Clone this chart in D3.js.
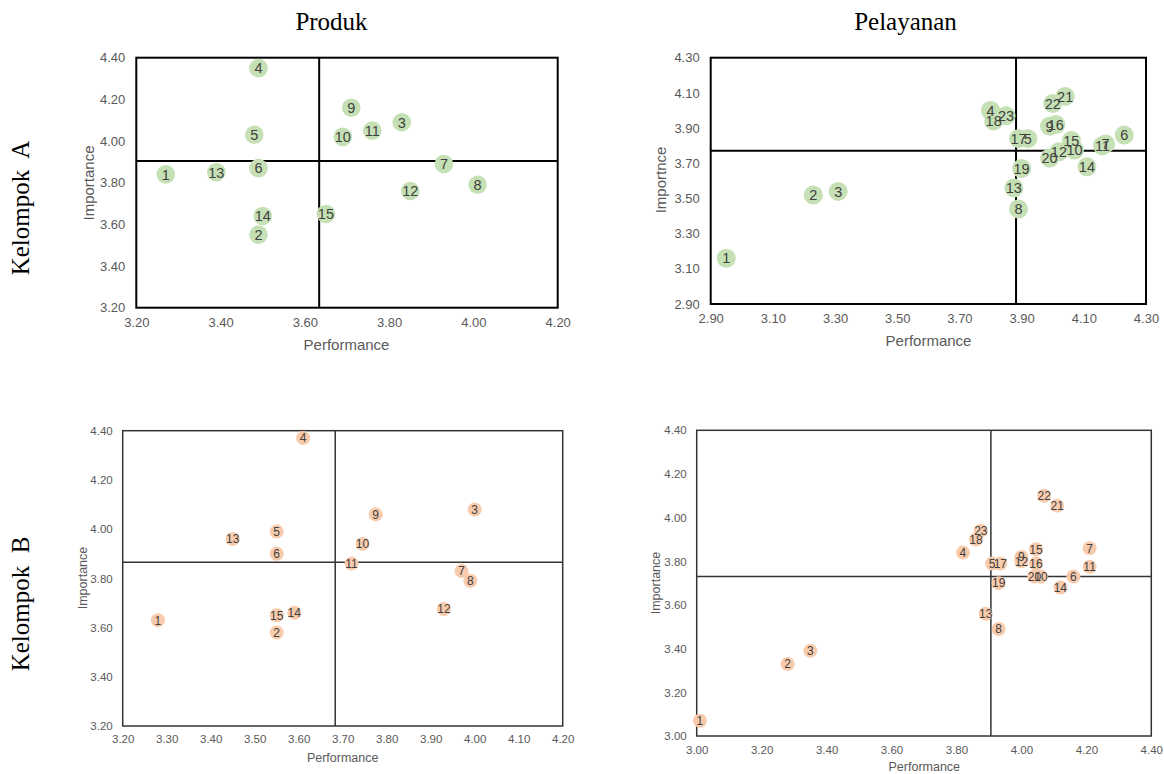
<!DOCTYPE html>
<html>
<head>
<meta charset="utf-8">
<script src="https://cdn.jsdelivr.net/npm/d3@7"></script>
<style>
  body { margin: 0; background: #fff; }
  svg text { font-family: "Liberation Sans", Arial, sans-serif; }
  .head { font-family: "Liberation Serif", "Times New Roman", serif !important; fill: #000; }
</style>
</head>
<body>
<svg id="chart" width="1164" height="774"></svg>
<script>
// ---- data ----
// Kelompok A, Produk (items 1..15)
const produkA_perf = [3.27, 3.49, 3.83, 3.49, 3.48, 3.49, 3.93, 4.01, 3.71, 3.69, 3.76, 3.85, 3.39, 3.50, 3.65];
const produkA_imp  = [3.84, 3.55, 4.09, 4.35, 4.03, 3.87, 3.89, 3.79, 4.16, 4.02, 4.05, 3.76, 3.85, 3.64, 3.65];
const produkA_mean = [3.634, 3.904];

// Kelompok A, Pelayanan (items 1..23)
const layanA_perf = [2.95, 3.23, 3.31, 3.80, 3.92, 4.23, 4.17, 3.89, 3.99, 4.07, 4.16, 4.02, 3.875, 4.11, 4.06, 4.01, 3.89, 3.81, 3.90, 3.99, 4.04, 4.00, 3.85];
const layanA_imp  = [3.16, 3.52, 3.54, 4.00, 3.84, 3.86, 3.81, 3.44, 3.91, 3.775, 3.80, 3.765, 3.56, 3.68, 3.83, 3.92, 3.84, 3.94, 3.67, 3.73, 4.08, 4.04, 3.97];
const layanA_mean = [3.882, 3.771];

// Kelompok B, Produk (items 1..15)
const produkB_perf = [3.28, 3.55, 4.00, 3.61, 3.55, 3.55, 3.97, 3.99, 3.775, 3.745, 3.72, 3.93, 3.45, 3.59, 3.55];
const produkB_imp  = [3.63, 3.58, 4.08, 4.37, 3.99, 3.90, 3.83, 3.79, 4.06, 3.94, 3.86, 3.675, 3.96, 3.66, 3.65];
const produkB_mean = [3.683, 3.865];

// Kelompok B, Pelayanan (items 1..23)
const layanB_perf = [3.01, 3.28, 3.35, 3.82, 3.91, 4.16, 4.21, 3.93, 4.00, 4.06, 4.21, 4.00, 3.89, 4.12, 4.045, 4.045, 3.935, 3.86, 3.93, 4.04, 4.11, 4.07, 3.875];
const layanB_imp  = [3.07, 3.33, 3.39, 3.84, 3.79, 3.73, 3.86, 3.49, 3.82, 3.73, 3.775, 3.80, 3.56, 3.68, 3.855, 3.79, 3.79, 3.90, 3.70, 3.73, 4.055, 4.10, 3.94];
const layanB_mean = [3.906, 3.730];

const colTitles = ["Produk", "Pelayanan"];
const rowTitles = ["Kelompok  A", "Kelompok  B"];

const green = "#c5e0b4", peach = "#f8cbad";

const svg = d3.select("#chart");

// column and row headings
svg.selectAll(".coltitle").data(colTitles).enter().append("text")
    .attr("class", "head")
    .attr("x", (d, i) => [331.5, 905.5][i])
    .attr("y", 29.5)
    .attr("text-anchor", "middle")
    .style("font-size", "25px")
    .text(d => d);

svg.selectAll(".rowtitle").data(rowTitles).enter().append("text")
    .attr("class", "head")
    .attr("transform", (d, i) => "translate(29," + [208, 604][i] + ") rotate(-90)")
    .attr("text-anchor", "middle")
    .style("font-size", "25px")
    .style("white-space", "pre")
    .attr("xml:space", "preserve")
    .text(d => d);

// one quadrant (IPA) chart
function drawIPA(cfg) {
    let g = svg.append("g");
    let x = d3.scaleLinear().domain(cfg.xDom).range([cfg.left, cfg.right]);
    let y = d3.scaleLinear().domain(cfg.yDom).range([cfg.bottom, cfg.top]);

    let xt = d3.range(0, Math.round((cfg.xDom[1] - cfg.xDom[0]) / cfg.xStep) + 1).map(i => cfg.xDom[0] + i * cfg.xStep);
    let yt = d3.range(0, Math.round((cfg.yDom[1] - cfg.yDom[0]) / cfg.yStep) + 1).map(i => cfg.yDom[0] + i * cfg.yStep);

    let xAxis = g.append("g")
        .attr("transform", "translate(0," + cfg.bottom + ")")
        .call(d3.axisBottom(x).tickValues(xt).tickFormat(d3.format(".2f")).tickSize(0).tickPadding(cfg.xPad));
    let yAxis = g.append("g")
        .attr("transform", "translate(" + cfg.left + ",0)")
        .call(d3.axisLeft(y).tickValues(yt).tickFormat(d3.format(".2f")).tickSize(0).tickPadding(cfg.yPad));
    [xAxis, yAxis].forEach(a => {
        a.select(".domain").remove();
        a.selectAll("text").style("font-size", cfg.tickSize + "px").attr("fill", "#595959")
            .style("font-family", "'Liberation Sans', Arial, sans-serif");
    });

    // frame
    g.append("rect")
        .attr("x", cfg.left).attr("y", cfg.top)
        .attr("width", cfg.right - cfg.left).attr("height", cfg.bottom - cfg.top)
        .attr("fill", "none").attr("stroke", cfg.lineCol).attr("stroke-width", cfg.lineW);

    // mean lines
    g.append("line")
        .attr("x1", x(cfg.mean[0])).attr("x2", x(cfg.mean[0]))
        .attr("y1", cfg.top).attr("y2", cfg.bottom)
        .attr("stroke", cfg.lineCol).attr("stroke-width", cfg.lineW);
    g.append("line")
        .attr("x1", cfg.left).attr("x2", cfg.right)
        .attr("y1", y(cfg.mean[1])).attr("y2", y(cfg.mean[1]))
        .attr("stroke", cfg.lineCol).attr("stroke-width", cfg.lineW);

    let pts = cfg.perf.map((p, i) => ({id: i + 1, p: p, imp: cfg.imp[i]}));

    g.selectAll(".dot").data(pts).enter().append("circle")
        .attr("cx", d => x(d.p)).attr("cy", d => y(d.imp))
        .attr("r", cfg.r).attr("fill", cfg.color);

    g.selectAll(".lbl").data(pts).enter().append("text")
        .attr("x", d => x(d.p)).attr("y", d => y(d.imp))
        .attr("dy", "0.36em")
        .attr("text-anchor", "middle")
        .style("font-size", cfg.lblSize + "px")
        .attr("fill", "#404040")
        .text(d => d.id);

    // axis titles
    g.append("text")
        .attr("x", cfg.xTitle[0]).attr("y", cfg.xTitle[1])
        .attr("dy", "0.36em").attr("text-anchor", "middle")
        .style("font-size", cfg.titleSize + "px").attr("fill", "#595959")
        .text("Performance");
    g.append("text")
        .attr("transform", "translate(" + cfg.yTitle[0] + "," + cfg.yTitle[1] + ") rotate(-90)")
        .attr("dy", "0.36em").attr("text-anchor", "middle")
        .style("font-size", cfg.titleSize + "px").attr("fill", "#595959")
        .text(cfg.yLabel);
}

drawIPA({
    left: 136.3, right: 557.7, top: 57.7, bottom: 307.7,
    xDom: [3.2, 4.2], yDom: [3.2, 4.4], xStep: 0.2, yStep: 0.2,
    perf: produkA_perf, imp: produkA_imp, mean: produkA_mean,
    color: green, r: 9.3, lblSize: 14.5, tickSize: 13, titleSize: 15,
    xPad: 10, yPad: 11, lineCol: "#000", lineW: 2,
    xTitle: [346.5, 345], yTitle: [88.5, 183], yLabel: "Importance"
});

drawIPA({
    left: 710.7, right: 1146, top: 57.7, bottom: 304,
    xDom: [2.9, 4.3], yDom: [2.9, 4.3], xStep: 0.2, yStep: 0.2,
    perf: layanA_perf, imp: layanA_imp, mean: layanA_mean,
    color: green, r: 9.5, lblSize: 14.5, tickSize: 13, titleSize: 15,
    xPad: 10, yPad: 11, lineCol: "#000", lineW: 2,
    xTitle: [928.5, 341], yTitle: [660.5, 180], yLabel: "Importnce"
});

drawIPA({
    left: 122.7, right: 562.7, top: 430.7, bottom: 726,
    xDom: [3.2, 4.2], yDom: [3.2, 4.4], xStep: 0.1, yStep: 0.2,
    perf: produkB_perf, imp: produkB_imp, mean: produkB_mean,
    color: peach, r: 7, lblSize: 12, tickSize: 11.5, titleSize: 12.5,
    xPad: 9, yPad: 10, lineCol: "#333", lineW: 1.5,
    xTitle: [342.7, 757.5], yTitle: [82.5, 578], yLabel: "Importance"
});

drawIPA({
    left: 696.7, right: 1151.3, top: 430.3, bottom: 736,
    xDom: [3.0, 4.4], yDom: [3.0, 4.4], xStep: 0.2, yStep: 0.2,
    perf: layanB_perf, imp: layanB_imp, mean: layanB_mean,
    color: peach, r: 7, lblSize: 12, tickSize: 11.5, titleSize: 12.5,
    xPad: 10, yPad: 10, lineCol: "#333", lineW: 1.5,
    xTitle: [924.3, 766.5], yTitle: [655.5, 583], yLabel: "Importance"
});
</script>
</body>
</html>
